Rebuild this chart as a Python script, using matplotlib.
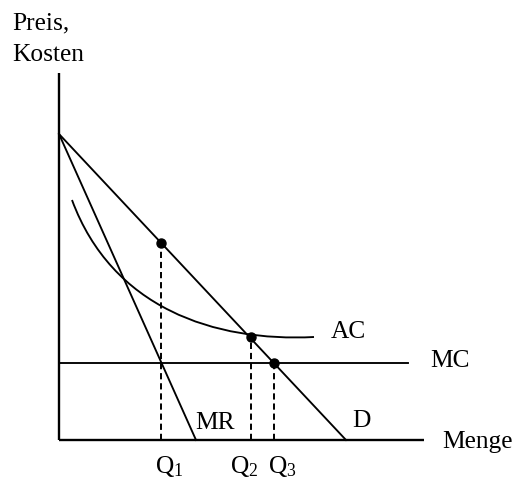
import matplotlib
matplotlib.use("Agg")
import matplotlib.pyplot as plt
from matplotlib.path import Path
from matplotlib.patches import PathPatch

plt.rcParams['font.family'] = ['Liberation Serif', 'DejaVu Serif']
plt.rcParams['mathtext.fontset'] = 'custom'
plt.rcParams['mathtext.rm'] = 'Liberation Serif'
plt.rcParams['mathtext.it'] = 'Liberation Serif:italic'

# ---- data (economic units) ----
p_max = 306          # common price intercept of D and MR
d_q_end = 287        # quantity where D reaches zero
mr_q_end = 137       # quantity where MR reaches zero
mc_level = 77        # constant marginal cost
mc_q_end = 349
q_axis_end = 365
p_axis_end = 367
q_points = [102, 192, 215]        # Q1, Q2, Q3
p_points = [197, 103, 77]         # prices of the marked points
q_labels = ['1', '2', '3']
# AC curve as cubic Bezier (start, control, control, end)
ac_bezier_q = [13, 53, 155, 255]
ac_bezier_p = [240, 132, 98, 103]

fig = plt.figure(figsize=(5.17, 4.78), dpi=100)
ax = fig.add_axes([0, 0, 1, 1])
ax.set_xlim(-59, 458)
ax.set_ylim(-38, 440)
ax.axis('off')

lw_axis = 1.7
lw = 1.35
# axes
ax.plot([0, 0], [0, p_axis_end], color='black', lw=lw_axis, solid_capstyle='butt')
ax.plot([0, q_axis_end], [0, 0], color='black', lw=lw_axis, solid_capstyle='butt')

# demand and marginal revenue
ax.plot([0, d_q_end], [p_max, 0], color='black', lw=lw)
ax.plot([0, mr_q_end], [p_max, 0], color='black', lw=lw)
# marginal cost
ax.plot([0, mc_q_end], [mc_level, mc_level], color='black', lw=lw)

# average cost curve
verts = list(zip(ac_bezier_q, ac_bezier_p))
path = Path(verts, [Path.MOVETO, Path.CURVE4, Path.CURVE4, Path.CURVE4])
ax.add_patch(PathPatch(path, facecolor='none', edgecolor='black', lw=lw))

# dashed drop lines and dots
for q, p in zip(q_points, p_points):
    ax.plot([q, q], [0, p], color='black', lw=1.4, linestyle=(0, (3.2, 2.0)))
ax.plot(q_points, p_points, 'o', color='black', markersize=6.5, zorder=5)

fs = 18.3
ax.text(-47, 410.5, 'Preis,', fontsize=fs, va='baseline', ha='left')
ax.text(-47, 379, 'Kosten', fontsize=fs, va='baseline', ha='left')
ax.text(383, -7.7, 'Menge', fontsize=fs, va='baseline', ha='left')
ax.text(272, 102.5, 'AC', fontsize=fs, va='baseline', ha='left')
ax.text(371, 72.7, 'MC', fontsize=fs, va='baseline', ha='left')
ax.text(136, 11, 'MR', fontsize=fs, va='baseline', ha='left')
ax.text(293, 13, 'D', fontsize=fs, va='baseline', ha='left')
for x0, lab in zip([96, 171, 209], q_labels):
    ax.text(x0, -33, r'$\mathrm{Q}_{\mathrm{' + lab + '}}$', fontsize=fs,
            va='baseline', ha='left')

fig.savefig('out.png', dpi=100)
